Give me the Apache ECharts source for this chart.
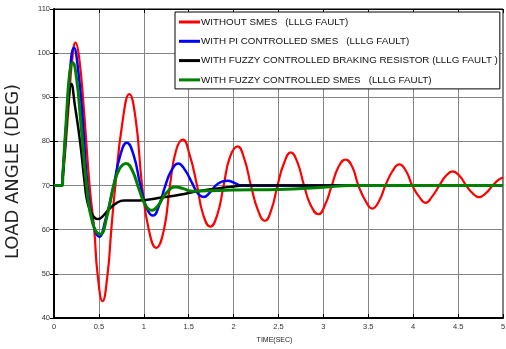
<!DOCTYPE html>
<html>
<head>
<meta charset="utf-8">
<script src="https://cdn.jsdelivr.net/npm/echarts@6/dist/echarts.min.js"></script>
<style>
  html, body { margin: 0; padding: 0; background: #fff; }
  #chart { width: 506px; height: 349px; }
</style>
</head>
<body>
<div id="chart"></div>
<script>
// Load angle response (degrees) against time (seconds) for an LLLG fault.
const seriesNames = [
  'WITHOUT SMES   (LLLG FAULT)',
  'WITH PI CONTROLLED SMES   (LLLG FAULT)',
  'WITH FUZZY CONTROLLED BRAKING RESISTOR (LLLG FAULT )',
  'WITH FUZZY CONTROLLED SMES   (LLLG FAULT)'
];
const seriesColors = ['#ff0000', '#0000ff', '#000000', '#008000'];

// [time, angle] samples for each case
const withoutSmes = [
  [0, 70], [0.09, 70], [0.1, 72], [0.13, 79], [0.17, 90], [0.2, 98], [0.24, 102.4], [0.28, 99],
  [0.33, 88], [0.396, 70], [0.448, 60], [0.485, 50], [0.541, 43.8], [0.597, 50], [0.638, 60],
  [0.683, 70], [0.76, 84], [0.839, 90.7], [0.91, 85], [0.981, 70], [1.056, 60], [1.138, 55.9],
  [1.224, 60], [1.291, 70], [1.36, 78], [1.435, 80.4], [1.51, 77], [1.593, 70], [1.66, 63.5],
  [1.741, 60.7], [1.82, 63.5], [1.889, 70], [1.96, 76.5], [2.044, 78.9], [2.12, 76], [2.193, 70],
  [2.27, 64.5], [2.348, 62.0], [2.42, 64.5], [2.489, 70], [2.56, 75], [2.637, 77.5], [2.71, 75.3],
  [2.785, 70], [2.86, 65.5], [2.944, 63.5], [3.02, 65.7], [3.093, 70], [3.17, 74.3], [3.246, 75.9],
  [3.32, 74.3], [3.39, 70], [3.47, 66.5], [3.544, 64.8], [3.62, 66.5], [3.69, 70], [3.77, 73.3],
  [3.845, 74.8], [3.92, 73.3], [3.99, 70], [4.065, 67.5], [4.137, 66.1], [4.21, 67.5], [4.29, 70],
  [4.365, 72.2], [4.44, 73.2], [4.515, 72.2], [4.59, 70], [4.66, 68.3], [4.733, 67.4], [4.81, 68.3],
  [4.885, 70], [4.95, 71.3], [5, 71.8]
];
const piSmes = [
  [0, 70], [0.09, 70], [0.1, 73], [0.13, 81], [0.17, 94], [0.223, 101.2], [0.27, 96], [0.32, 85],
  [0.373, 70], [0.44, 61], [0.504, 58.4], [0.57, 62], [0.664, 70], [0.74, 77], [0.81, 79.7],
  [0.885, 77], [0.963, 70], [1.03, 65], [1.104, 63.2], [1.17, 65.5], [1.24, 70], [1.31, 73.5],
  [1.384, 75], [1.46, 73.5], [1.54, 70.5], [1.6, 68.3], [1.667, 67.4], [1.73, 68.3], [1.8, 70],
  [1.87, 70.9], [1.937, 71.1], [2.0, 70.7], [2.07, 70.1], [2.2, 70], [5, 70]
];
const fuzzyResistor = [
  [0, 70], [0.09, 70], [0.1, 73], [0.13, 82], [0.16, 89], [0.193, 93], [0.23, 88.5], [0.29, 80],
  [0.345, 70], [0.37, 66.5], [0.42, 63.7], [0.49, 62.4], [0.55, 63.2], [0.62, 64.8], [0.7, 66.1],
  [0.78, 66.6], [0.9, 66.6], [1.0, 66.7], [1.2, 67.3], [1.4, 67.9], [1.6, 68.7], [1.8, 69.3],
  [2.0, 69.8], [2.1, 70], [5, 70]
];
const fuzzySmes = [
  [0, 70], [0.09, 70], [0.1, 73], [0.14, 86], [0.175, 95.5], [0.208, 97.8], [0.25, 94.5], [0.3, 84],
  [0.36, 70.5], [0.43, 61.5], [0.515, 59.0], [0.59, 63], [0.664, 70], [0.73, 73.8], [0.802, 75.0],
  [0.87, 73.5], [0.95, 69], [1.02, 65.5], [1.093, 64.4], [1.16, 65.5], [1.25, 68.3], [1.354, 69.7],
  [1.44, 69.3], [1.54, 68.7], [1.7, 68.8], [2.0, 69.0], [2.5, 69.1], [3.0, 69.6], [3.3, 70], [5, 70]
];
const seriesData = [withoutSmes, piSmes, fuzzyResistor, fuzzySmes];
const seriesWidths = [2.2, 2.5, 2.5, 3];

const xRange = [0, 5, 0.5];
const yRange = [40, 110, 10];
const xTitle = 'TIME(SEC)';
const yTitle = 'LOAD ANGLE (DEG)';

const sans = "'Liberation Sans', Arial, sans-serif";

const chart = echarts.init(document.getElementById('chart'), null, { renderer: 'canvas' });

const baseAxis = {
  splitLine: { show: true, lineStyle: { color: '#858585', width: 1 } },
  axisTick: { show: true, inside: true, length: 4, lineStyle: { color: '#000', width: 1 } },
  axisLine: { show: true, onZero: false, lineStyle: { color: '#000', width: 2 } },
  axisLabel: { color: '#333', fontSize: 7.5, fontFamily: sans }
};

chart.setOption({
  animation: false,
  backgroundColor: '#ffffff',
  grid: {
    left: 54, right: 3, top: 9, bottom: 31,
    containLabel: false,
    outerBoundsMode: 'none',
    show: true, borderColor: '#000', borderWidth: 1
  },
  legend: {
    orient: 'vertical',
    left: 175, top: 12,
    data: seriesNames,
    icon: 'rect',
    backgroundColor: '#ffffff',
    borderColor: '#000', borderWidth: 1,
    padding: [5, 2, 4, 4],
    itemWidth: 21, itemHeight: 3, itemGap: 9.3,
    textStyle: { color: '#111', fontSize: 9.8, fontFamily: sans, padding: [0, 0, 0, -4] }
  },
  xAxis: [
    Object.assign({}, baseAxis, {
      type: 'value', min: xRange[0], max: xRange[1], interval: xRange[2],
      position: 'bottom',
      name: xTitle, nameLocation: 'middle', nameGap: 19,
      nameTextStyle: { color: '#222', fontSize: 7, fontFamily: sans, padding: [0, 8, 0, 0] },
      axisLabel: Object.assign({}, baseAxis.axisLabel, { margin: 5 })
    }),
    {
      type: 'value', min: xRange[0], max: xRange[1], interval: xRange[2],
      position: 'top', gridIndex: 0,
      axisLine: { show: true, lineStyle: { color: '#000', width: 1 } },
      axisTick: { show: true, inside: true, length: 4, lineStyle: { color: '#000' } },
      axisLabel: { show: false }, splitLine: { show: false }
    }
  ],
  yAxis: [
    Object.assign({}, baseAxis, {
      type: 'value', min: yRange[0], max: yRange[1], interval: yRange[2],
      position: 'left',
      name: yTitle, nameLocation: 'middle', nameGap: 32, nameRotate: 90,
      nameTextStyle: { color: '#222', fontSize: 18, fontFamily: "'DejaVu Sans', sans-serif", padding: [0, 16, 0, 0] },
      axisLabel: Object.assign({}, baseAxis.axisLabel, { margin: 4 })
    }),
    {
      type: 'value', min: yRange[0], max: yRange[1], interval: yRange[2],
      position: 'right', gridIndex: 0,
      axisLine: { show: true, lineStyle: { color: '#000', width: 1 } },
      axisTick: { show: true, inside: true, length: 4, lineStyle: { color: '#000' } },
      axisLabel: { show: false }, splitLine: { show: false }
    }
  ],
  series: seriesNames.map((name, i) => ({
    name: name,
    type: 'line',
    xAxisIndex: 0, yAxisIndex: 0,
    data: seriesData[i],
    smooth: 0.5,
    symbol: 'none',
    clip: true,
    z: 2 + i,
    color: seriesColors[i],
    lineStyle: { color: seriesColors[i], width: seriesWidths[i] }
  }))
});
</script>
</body>
</html>
